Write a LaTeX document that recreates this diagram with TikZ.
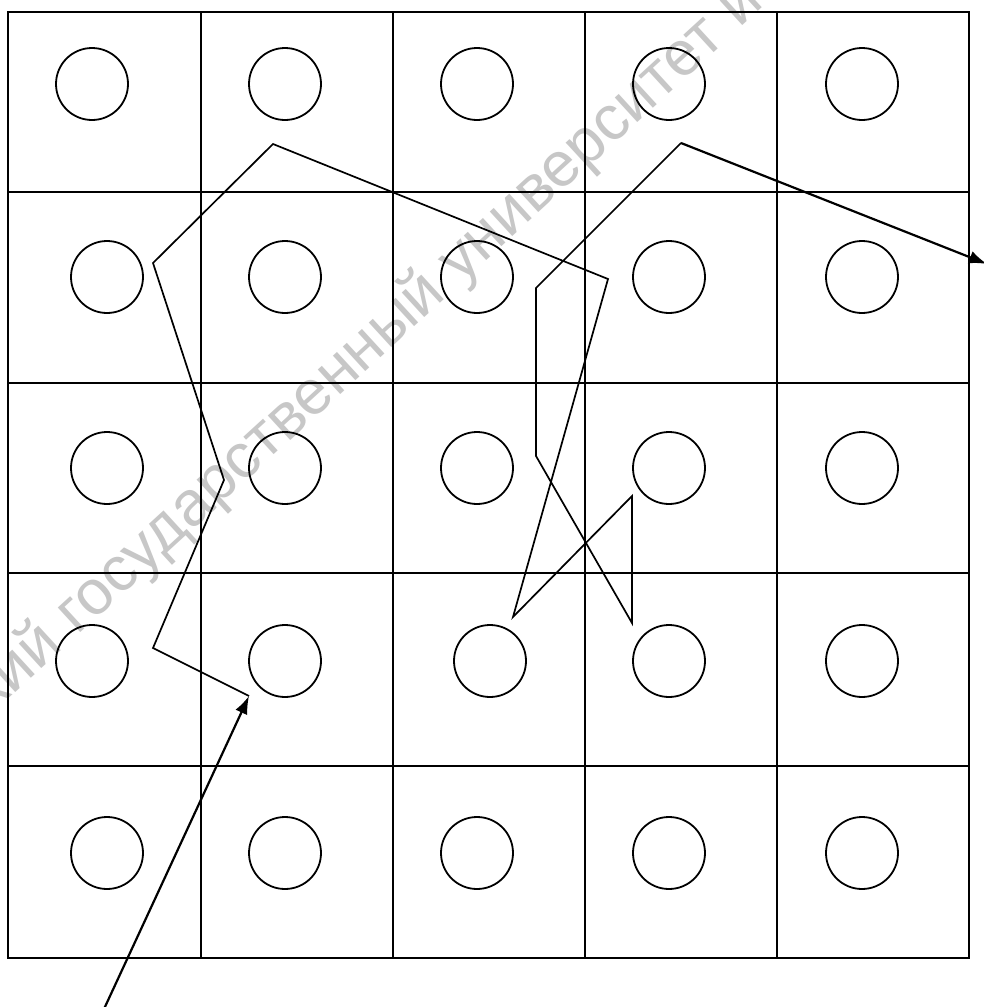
\documentclass[tikz,border=0pt]{standalone}
\usepackage{fontspec}
\newfontfamily\wmfont{Liberation Sans}
\usetikzlibrary{arrows.meta}
\begin{document}
\begin{tikzpicture}[x=1pt,y=-1pt,
  gridline/.style={line width=2.2pt},
  hole/.style={circle,draw,line width=1.8pt,minimum size=72pt,inner sep=0pt},
  route/.style={line width=1.7pt,line join=miter},
  arrowline/.style={line width=2.2pt,-{Latex[length=18pt,width=13pt]}},
  watermark/.style={text=black!22,font=\wmfont\fontsize{63}{63}\selectfont,rotate=42.5,anchor=base west,inner sep=0pt}
]
\useasboundingbox (0,0) rectangle (983,1007);
\fill[white] (0,0) rectangle (983,1007);
% watermark
\node[watermark] (wm) at (-8,714) {кий государственный университет и};
% grid
\draw[gridline] (8,12) rectangle (969,958);
\foreach \x in {201,393,585,777} \draw[gridline] (\x,12) -- (\x,958);
\foreach \y in {192,383,573,766} \draw[gridline] (8,\y) -- (969,\y);
% circles
\node[hole] (c11) at (92,84) {};
\node[hole] (c12) at (285,84) {};
\node[hole] (c13) at (477,84) {};
\node[hole] (c14) at (669,84) {};
\node[hole] (c15) at (862,84) {};
\node[hole] (c21) at (107,277) {};
\node[hole] (c22) at (285,277) {};
\node[hole] (c23) at (477,277) {};
\node[hole] (c24) at (669,277) {};
\node[hole] (c25) at (862,277) {};
\node[hole] (c31) at (107,468) {};
\node[hole] (c32) at (285,468) {};
\node[hole] (c33) at (477,468) {};
\node[hole] (c34) at (669,468) {};
\node[hole] (c35) at (862,468) {};
\node[hole] (c41) at (92,661) {};
\node[hole] (c42) at (285,661) {};
\node[hole] (c43) at (490,661) {};
\node[hole] (c44) at (669,661) {};
\node[hole] (c45) at (862,661) {};
\node[hole] (c51) at (107,853) {};
\node[hole] (c52) at (285,853) {};
\node[hole] (c53) at (477,853) {};
\node[hole] (c54) at (669,853) {};
\node[hole] (c55) at (862,853) {};
% route vertices
\coordinate (tail) at (104,1009);
\coordinate (p0) at (249,696);
\coordinate (p1) at (153,648);
\coordinate (p2) at (224,480);
\coordinate (p3) at (153,263);
\coordinate (p4) at (273,144);
\coordinate (p5) at (608,279);
\coordinate (p6) at (513,617);
\coordinate (p7) at (632,496);
\coordinate (p8) at (632,623);
\coordinate (p9) at (536,456);
\coordinate (p10) at (536,288);
\coordinate (p11) at (681,143);
\coordinate (endpt) at (987,264);
% route
\draw[arrowline] (tail) -- (p0);
\draw[route] (p0) -- (p1) -- (p2) -- (p3) -- (p4) -- (p5) -- (p6) -- (p7) -- (p8) -- (p9) -- (p10) -- (p11);
\draw[arrowline] (p11) -- (endpt);
\end{tikzpicture}
\end{document}
